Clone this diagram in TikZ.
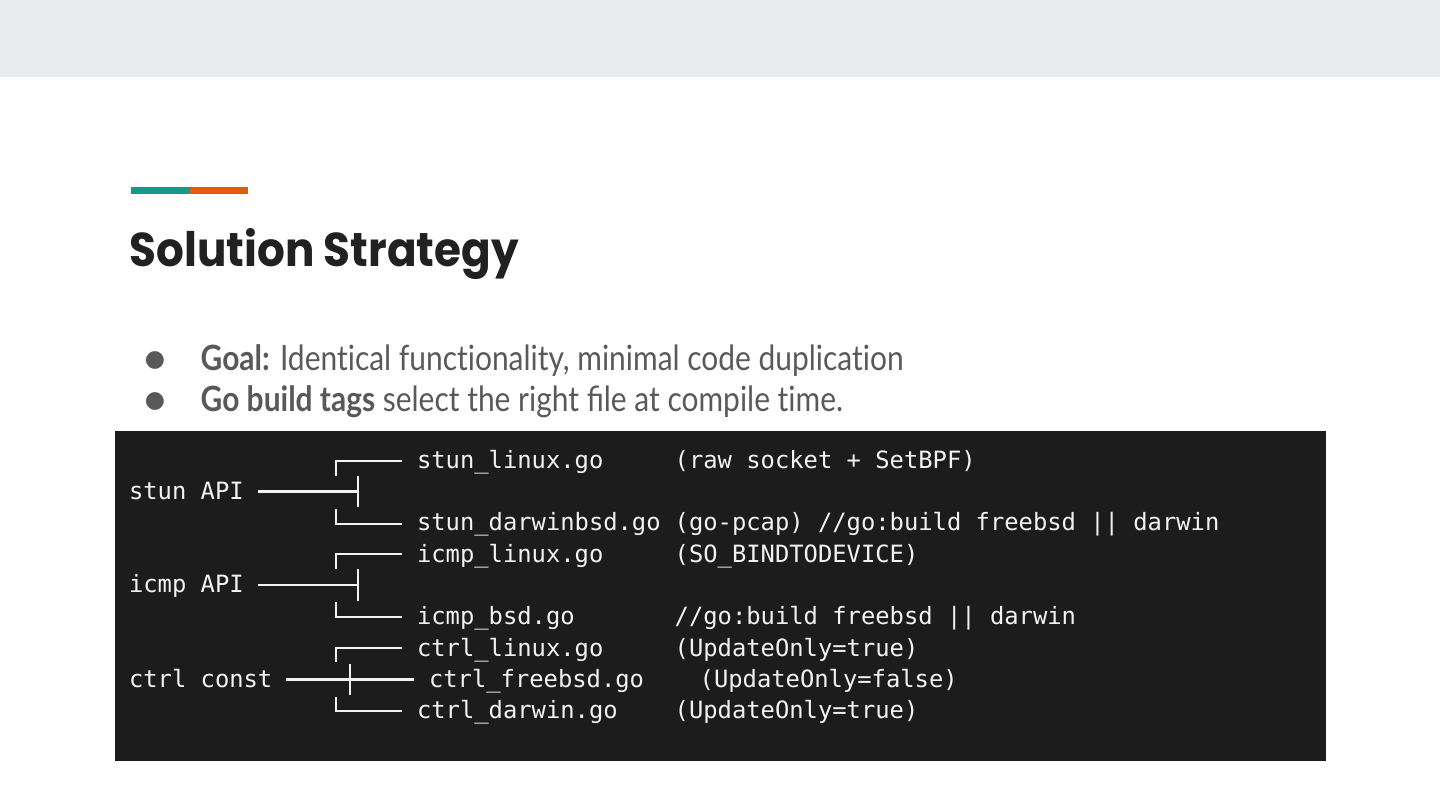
\documentclass[tikz,border=0pt]{standalone}
\usepackage{fontspec}
\setmainfont{Lato}[Ligatures=NoCommon, FakeStretch=0.86]
\newfontfamily\titlefont{Poppins}[FakeStretch=0.92]
\newfontfamily\codefont{DejaVu Sans Mono}
\newfontfamily\symfont{DejaVu Sans}

\definecolor{bandgrey}{HTML}{E8ECEE}
\definecolor{barteal}{HTML}{17998A}
\definecolor{barorange}{HTML}{E65A0C}
\definecolor{titleink}{HTML}{212121}
\definecolor{bodyink}{HTML}{595959}
\definecolor{codebg}{HTML}{1C1C1C}
\definecolor{codeink}{HTML}{F2F2F2}

\tikzset{
  root/.style={anchor=base west, inner sep=0, outer xsep=0.14cm},
  srcfile/.style={anchor=base west, inner sep=0, outer xsep=0.15cm},
  note/.style={anchor=base west, inner sep=0},
  branch/.style={draw=codeink, line width=0.65pt}
}

\begin{document}
\begin{tikzpicture}[x=0.01cm,y=-0.01cm]

        \useasboundingbox (0,0) rectangle (1440,810);
        \fill[bandgrey] (0,0) rectangle (1440,77);
        \fill[barteal] (131,187) rectangle (190,194);
        \fill[barorange] (190,187) rectangle (248,194);

        \node[anchor=base west, inner sep=0, text=titleink,
              font=\titlefont\bfseries\fontsize{13.5}{16}\selectfont] (title) at (129,267) {Solution Strategy};

        \begin{scope}[every node/.style={anchor=base west, inner sep=0, text=bodyink, font=\fontsize{9.9}{12}\selectfont}]
          \node (goal) at (200,371) {\textbf{Goal:} Identical functionality, minimal code duplication};
          \node (tags) at (200,412) {\textbf{Go build tags} select the right ﬁle at compile time.};
        \end{scope}

        \begin{scope}[every node/.style={inner sep=0, text=bodyink, font=\symfont\fontsize{6.6}{8}\selectfont}]
          \node (dot1) at (155,360) {●};
          \node (dot2) at (155,401) {●};
        \end{scope}

        \fill[codebg] (115,431) rectangle (1326,761);

        \begin{scope}[every node/.append style={text=codeink, font=\codefont\fontsize{6.77}{8}\selectfont}]
          \node[root] (stun)  at (115,499.5) {stun API};
          \node[root] (icmp)  at (115,593)   {icmp API};
          \node[root] (ctrl)  at (115,687)   {ctrl const};

          \node[srcfile] (stunlinux)  at (402,469) {stun\_linux.go};
          \node[srcfile] (stundarwin) at (402,531) {stun\_darwinbsd.go};
          \node[srcfile] (icmplinux)  at (402,562) {icmp\_linux.go};
          \node[srcfile] (icmpbsd)    at (402,624) {icmp\_bsd.go};
          \node[srcfile] (ctrllinux)  at (402,656) {ctrl\_linux.go};
          \node[srcfile] (ctrlfree)   at (414,687) {ctrl\_freebsd.go};
          \node[srcfile] (ctrldarwin) at (402,718) {ctrl\_darwin.go};

          \node[note] (n1) at (674,469) {(raw socket + SetBPF)};
          \node[note] (n2) at (674,531) {(go-pcap) //go:build freebsd || darwin};
          \node[note] (n3) at (674,562) {(SO\_BINDTODEVICE)};
          \node[note] (n4) at (674,624) {//go:build freebsd || darwin};
          \node[note] (n5) at (674,656) {(UpdateOnly=true)};
          \node[note] (n6) at (699,687) {(UpdateOnly=false)};
          \node[note] (n7) at (674,718) {(UpdateOnly=true)};
        \end{scope}

        \coordinate (stunT)  at (358,491.5);
        \coordinate (stunUp) at (336,461);
        \coordinate (stunDn) at (336,524);
        \coordinate (icmpT)  at (358,585);
        \coordinate (icmpUp) at (336,554);
        \coordinate (icmpDn) at (336,617);
        \coordinate (ctrlX)  at (350,679.5);
        \coordinate (ctrlUp) at (336,648);
        \coordinate (ctrlDn) at (336,711);

        \begin{scope}[every path/.style={branch}]
          \path (stun.east |- stunT) edge (stunT);
          \path ([yshift=0.155cm]stunT) edge ([yshift=-0.155cm]stunT);
          \draw (stunlinux.west |- stunUp) -- (stunUp) -- ([yshift=-0.15cm]stunUp);
          \draw ([yshift=0.15cm]stunDn) -- (stunDn) -- (stundarwin.west |- stunDn);

          \path (icmp.east |- icmpT) edge (icmpT);
          \path ([yshift=0.155cm]icmpT) edge ([yshift=-0.155cm]icmpT);
          \draw (icmplinux.west |- icmpUp) -- (icmpUp) -- ([yshift=-0.15cm]icmpUp);
          \draw ([yshift=0.15cm]icmpDn) -- (icmpDn) -- (icmpbsd.west |- icmpDn);

          \path (ctrl.east |- ctrlX) edge (ctrlfree.west |- ctrlX);
          \path ([yshift=0.15cm]ctrlX) edge ([yshift=-0.15cm]ctrlX);
          \draw (ctrllinux.west |- ctrlUp) -- (ctrlUp) -- ([yshift=-0.14cm]ctrlUp);
          \draw ([yshift=0.14cm]ctrlDn) -- (ctrlDn) -- (ctrldarwin.west |- ctrlDn);
        \end{scope}

      \end{tikzpicture}
\end{document}
